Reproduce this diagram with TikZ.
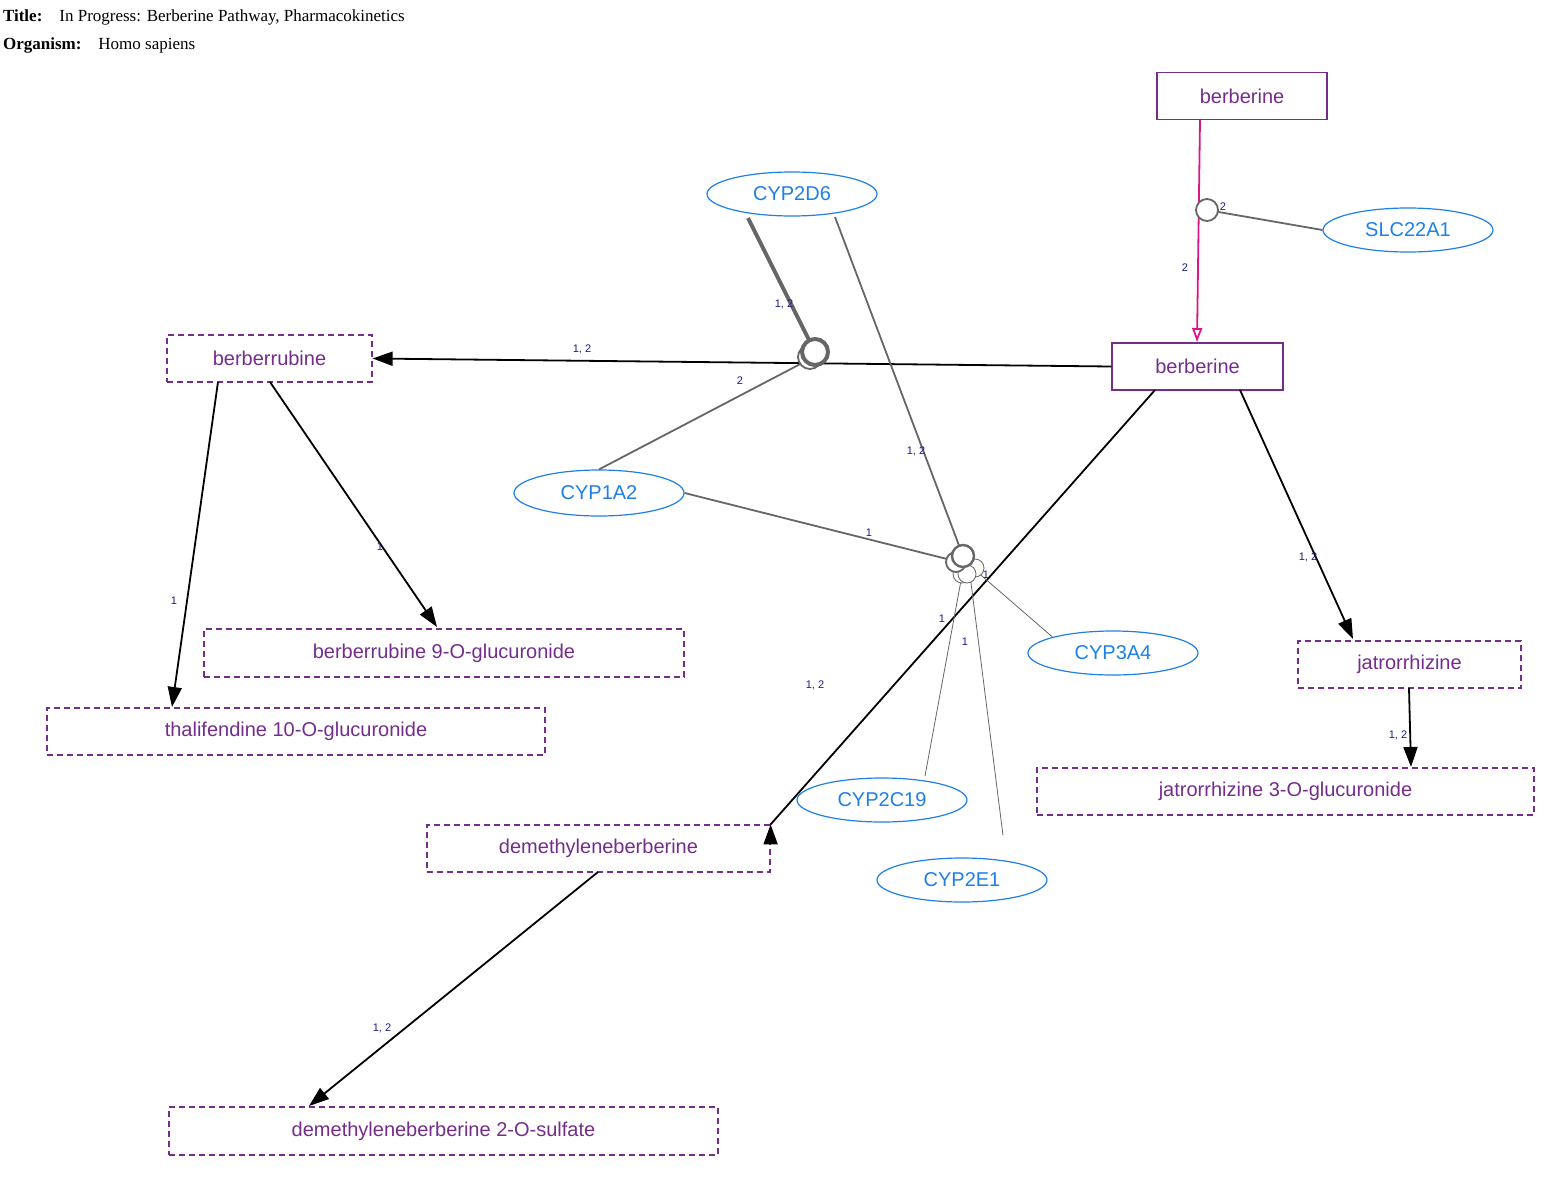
\documentclass[tikz,border=0pt]{standalone}
\usepackage{fontspec}
\setmainfont{Liberation Serif}
\setsansfont{Liberation Sans}
\usetikzlibrary{shapes.geometric,arrows.meta}
\definecolor{met}{HTML}{742D8A}
\definecolor{gene}{HTML}{1E7FE6}
\definecolor{lab}{HTML}{1A1A8C}
\definecolor{anc}{HTML}{666666}
\begin{document}
\begin{tikzpicture}[x=0.5pt,y=-0.5pt,
 mb/.style={draw=met,line width=0.6pt,text=met,font=\sffamily\fontsize{10}{12}\selectfont,inner sep=0pt},
 md/.style={mb,dashed,dash pattern=on 3pt off 2pt},
 gn/.style={ellipse,draw=gene,line width=0.6pt,text=gene,font=\sffamily\fontsize{10}{12}\selectfont,inner sep=0pt,minimum width=85pt,minimum height=22pt},
 rx/.style={line width=0.9pt,-{Triangle[length=10pt,width=7pt]}},
 cat/.style={draw=anc,line width=0.9pt},
 thin/.style={draw=anc,line width=0.4pt},
 lb/.style={text=lab,font=\sffamily\fontsize{5.5}{6}\selectfont,inner sep=0pt}]
\useasboundingbox (0,0) rectangle (1559,1194);
\node[anchor=west,font=\fontsize{8.5}{10}\selectfont] (t1) at (-4,17) {\textbf{Title:}\quad In Progress: Berberine Pathway, Pharmacokinetics};
\node[anchor=west,font=\fontsize{8.5}{10}\selectfont] (t2) at (-4,45) {\textbf{Organism:}\quad Homo sapiens};
% nodes
\node[mb,minimum width=85pt,minimum height=23.5pt] (b1) at (1242,96) {berberine};
\node[mb,minimum width=85.5pt,minimum height=23.5pt] (b2) at (1197.5,366.5) {berberine};
\node[md,minimum width=102.5pt,minimum height=23.5pt] (br) at (269.5,358.5) {berberrubine};
\node[md,minimum width=240pt,minimum height=24pt] (brg) at (444,653) {berberrubine 9-O-glucuronide};
\node[md,minimum width=249pt,minimum height=23.5pt] (th) at (296,731.5) {thalifendine 10-O-glucuronide};
\node[md,minimum width=111.5pt,minimum height=23.5pt] (jt) at (1409.5,664.5) {jatrorrhizine};
\node[md,minimum width=248.5pt,minimum height=23.5pt] (jtg) at (1285.5,791.5) {jatrorrhizine 3-O-glucuronide};
\node[md,minimum width=171.5pt,minimum height=23.5pt] (dm) at (598.5,848.5) {demethyleneberberine};
\node[md,minimum width=274.5pt,minimum height=24pt] (dms) at (443.5,1131) {demethyleneberberine 2-O-sulfate};
\node[gn] (slc) at (1408,230) {SLC22A1};
\node[gn] (d6) at (792,194) {CYP2D6};
\node[gn,minimum height=23pt] (a2) at (599,493) {CYP1A2};
\node[gn] (a4) at (1113,653) {CYP3A4};
\node[gn] (c19) at (882,800) {CYP2C19};
\node[gn] (e1) at (962,880) {CYP2E1};
% anchors
\coordinate (p1) at (1207,210);
\coordinate (p2) at (815,352);
\coordinate (p3) at (963,556);
% transport
\draw[line width=0.9pt,draw=magenta!80!violet,-{Triangle[length=7pt,width=5pt,open,fill=none]}] (1200,120) -- (1197,342);
\draw[cat] (slc.west) -- (p1);
\draw[cat,fill=white] (p1) circle (5.5pt);
\node[lb] (l1) at (1185,268) {2};
\node[lb] (l2) at (1223,207) {2};
% berberrubine reaction
\draw[rx] (b2.west) -- (br.east);
\draw[draw=anc,line width=2pt] (748,218) -- (p2);
\draw[cat] (a2.north) -- (808,360);
\draw[cat,fill=white] (810,357) circle (6pt);
\draw[draw=anc,line width=2pt,fill=white] (p2) circle (6.5pt);
\node[lb] (l3) at (582,349) {1, 2};
\node[lb] (l4) at (784,304) {1, 2};
\node[lb] (l5) at (740,381) {2};
% demethylene reaction
\draw[rx] (1155,390) -- (dm.north east) ++(0,0);
\draw[cat] (835,217) -- (p3);
\draw[cat] (a2.east) -- (955,561);
\draw[thin] (a4.north west) -- (975,570);
\draw[thin] (925,776) -- (962,575);
\draw[thin] (e1.north) ++(41,-22) -- (970,575);
\foreach \c in {(968,570),(975,568),(962,574),(967,574)} \draw[thin,fill=white] \c circle (4.5pt);
\draw[cat,fill=white] (956,562) circle (5pt);
\draw[draw=anc,line width=1.2pt,fill=white] (p3) circle (5.5pt);
\node[lb] (l6) at (815,685) {1, 2};
\node[lb] (l7) at (916,451) {1, 2};
\node[lb] (l8) at (869,533) {1};
\node[lb] (l9) at (986,575) {1};
\node[lb] (l10) at (942,619) {1};
\node[lb] (l11) at (965,642) {1};
% others
\draw[rx] (1240,390) -- (1353,639);
\node[lb] (l12) at (1308,557) {1, 2};
\draw[rx] (1409,688) -- (1411,767);
\node[lb] (l13) at (1398,735) {1, 2};
\draw[rx] (218,382) -- (172,707);
\node[lb] (l14) at (174,601) {1};
\draw[rx] (270,382) -- (437,627);
\node[lb] (l15) at (380,547) {1};
\draw[rx] (598,872) -- (309,1106);
\node[lb] (l16) at (382,1028) {1, 2};
\end{tikzpicture}
\end{document}
